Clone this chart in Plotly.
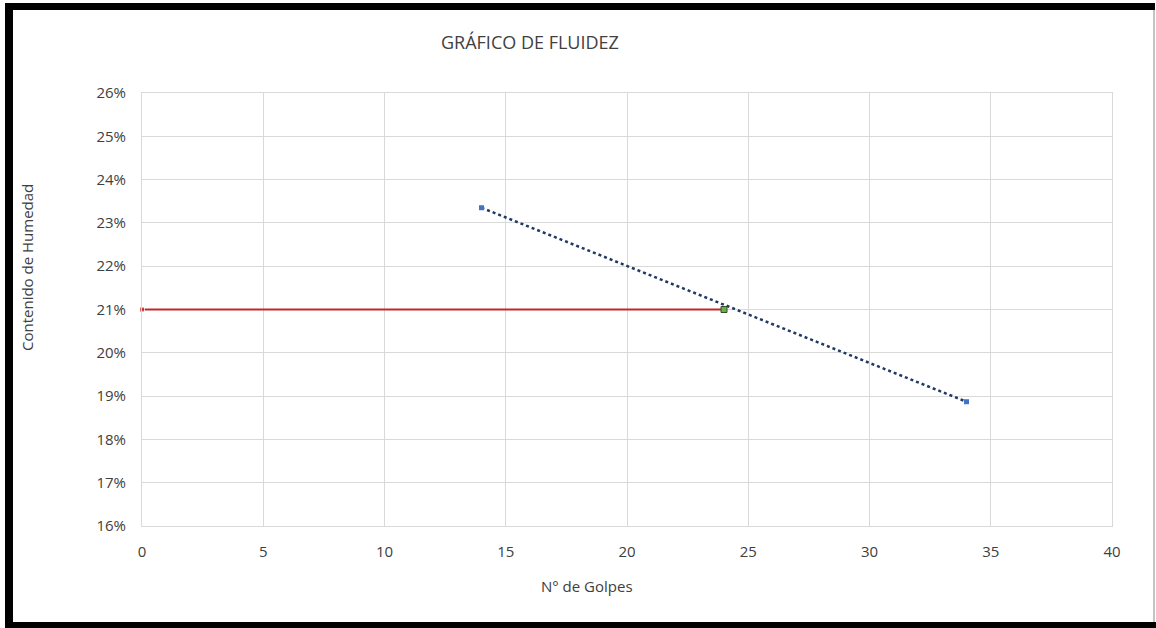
import plotly.graph_objects as go

# Data
golpes = [14, 34]
humedad = [0.2335, 0.1887]
ref_x = [0, 24]
ref_y = [0.21, 0.21]
punto_x = [24]
punto_y = [0.21]

x_ticks = [0, 5, 10, 15, 20, 25, 30, 35, 40]
y_ticks = [0.16, 0.17, 0.18, 0.19, 0.20, 0.21, 0.22, 0.23, 0.24, 0.25, 0.26]

title_text = "GRÁFICO DE FLUIDEZ"
x_title = "N° de Golpes"
y_title = "Contenido de Humedad"

W, H = 1156, 628
L, R, T, B = 142, 1112, 93, 526
pw, ph = R - L, B - T

def px(xp):
    return (xp - L) / pw

def py(yp):
    return (B - yp) / ph

font = "Open Sans"
txt = "#404040"
grid = "#d9d9d9"

fig = go.Figure()

fig.add_trace(go.Scatter(
    x=ref_x, y=ref_y, mode="lines+markers",
    line=dict(color="#C0282D", width=2),
    marker=dict(symbol="square", size=[5, 0], color="#C0282D"),
    cliponaxis=False, showlegend=False, hoverinfo="skip"))

fig.add_trace(go.Scatter(
    x=golpes, y=humedad, mode="lines+markers",
    line=dict(color="#1F3864", width=2.5, dash="dot"),
    marker=dict(symbol="square", size=5, color="#4472C4"),
    cliponaxis=False, showlegend=False))

fig.add_trace(go.Scatter(
    x=punto_x, y=punto_y, mode="markers",
    marker=dict(symbol="square", size=6, color="#70AD47",
                line=dict(color="#2F4F2F", width=1)),
    cliponaxis=False, showlegend=False))

fig.update_xaxes(
    range=[0, 40], tickvals=x_ticks, ticktext=[str(v) for v in x_ticks],
    showgrid=True, gridcolor=grid, gridwidth=1,
    showline=True, linecolor=grid, linewidth=1, mirror=True,
    zeroline=False, ticks="outside", ticklen=12, tickcolor="rgba(0,0,0,0)",
    tickfont=dict(family=font, size=15, color=txt))

fig.update_yaxes(
    range=[0.16, 0.26], tickvals=y_ticks, tickformat=".0%",
    showgrid=True, gridcolor=grid, gridwidth=1,
    showline=True, linecolor=grid, linewidth=1, mirror=True,
    zeroline=False, ticks="outside", ticklen=12, tickcolor="rgba(0,0,0,0)",
    tickfont=dict(family=font, size=15, color=txt))

annotations = [
    dict(text=title_text, x=px(530), y=py(42), xref="paper", yref="paper",
         showarrow=False, xanchor="center", yanchor="middle",
         font=dict(family=font, size=18, color=txt)),
    dict(text=x_title, x=px(587), y=py(586), xref="paper", yref="paper",
         showarrow=False, xanchor="center", yanchor="middle",
         font=dict(family=font, size=15, color=txt)),
    dict(text=y_title, x=px(27), y=py(268), xref="paper", yref="paper",
         showarrow=False, xanchor="center", yanchor="middle", textangle=-90,
         font=dict(family=font, size=15, color=txt)),
]

shapes = [
    # thick black frame (left, top, bottom) and thin gray right edge
    dict(type="rect", xref="paper", yref="paper", x0=px(5), x1=px(13), y0=py(628), y1=py(3),
         fillcolor="black", line=dict(width=0), layer="above"),
    dict(type="rect", xref="paper", yref="paper", x0=px(5), x1=px(1155), y0=py(10), y1=py(3),
         fillcolor="black", line=dict(width=0), layer="above"),
    dict(type="rect", xref="paper", yref="paper", x0=px(5), x1=px(1156), y0=py(628), y1=py(622),
         fillcolor="black", line=dict(width=0), layer="above"),
    dict(type="line", xref="paper", yref="paper", x0=px(1154), x1=px(1154), y0=py(622), y1=py(10),
         line=dict(color="#b0b0b0", width=1.5), layer="above"),
]

fig.update_layout(
    width=W, height=H, autosize=False,
    margin=dict(l=L, r=W - R, t=T, b=H - B, pad=0),
    paper_bgcolor="white", plot_bgcolor="white",
    annotations=annotations, shapes=shapes, showlegend=False)

fig.write_html("out.html", config={"displayModeBar": False},
               post_script="document.body.style.margin='0';document.body.style.overflow='hidden';")
